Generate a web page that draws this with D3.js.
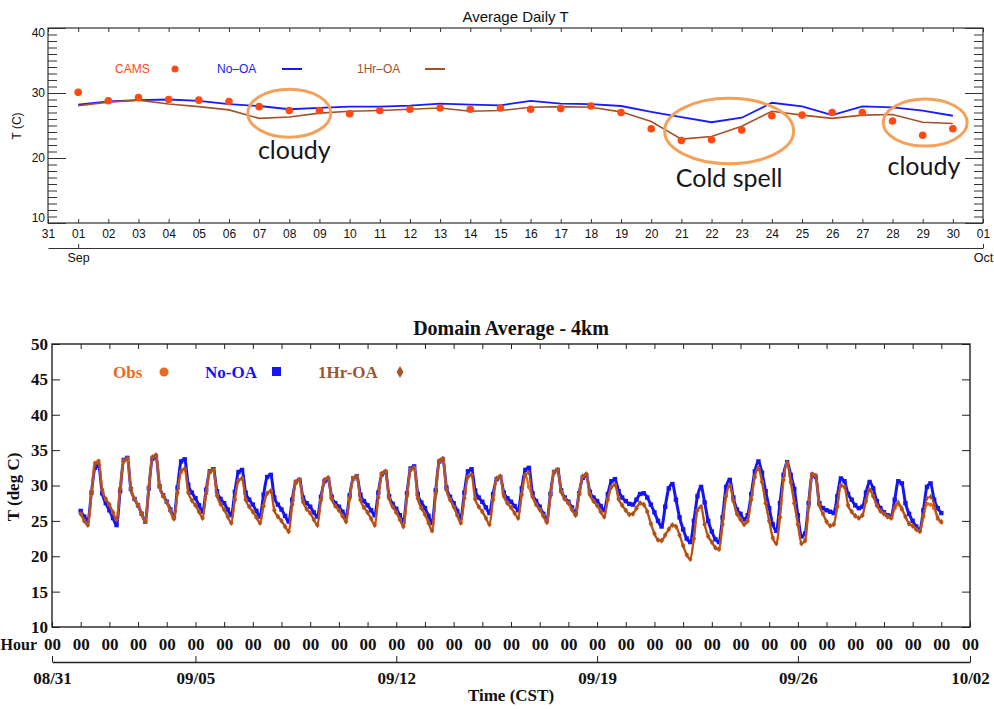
<!DOCTYPE html>
<html><head><meta charset="utf-8">
<script src="https://cdn.jsdelivr.net/npm/d3@7"></script>
<style>body{margin:0;background:#fff}svg{display:block}</style>
</head><body>
<svg id="c" width="994" height="709"></svg>
<script>
// ---------- TOP CHART DATA (daily, Sep 1..30) ----------
const topDays = d3.range(1, 31);
const camsDaily = [30.1,28.8,29.3,29.0,28.9,28.7,27.9,27.3,27.3,26.8,27.3,27.5,27.7,27.5,27.7,27.5,27.6,28.0,27.0,24.5,22.7,22.8,24.3,26.5,26.6,27.0,27.0,25.7,23.5,24.5];
const noOADaily = [28.2,28.7,28.9,29.0,28.8,28.3,28.0,27.5,27.7,27.9,27.9,28.05,28.35,28.2,28.1,28.8,28.35,28.3,28.0,27.1,26.3,25.5,26.2,28.5,27.95,26.6,27.95,27.8,27.3,26.5];
const hrOADaily = [28.05,28.6,28.9,28.3,27.9,27.4,26.1,26.3,26.9,27.2,27.3,27.5,27.7,27.2,27.3,27.8,27.9,27.8,27.1,25.6,22.9,23.3,24.9,27.2,26.6,26.1,26.6,26.7,25.5,25.3];
const topDayLabels = ["31","01","02","03","04","05","06","07","08","09","10","11","12","13","14","15","16","17","18","19","20","21","22","23","24","25","26","27","28","29","30","01"];
const topYTicks = [10,20,30,40];
const topMonthLabels = ["Sep","Oct"];

// ---------- BOTTOM CHART DATA (3-hourly, Sep 1 00h .. Oct 1 00h) ----------
const stepHours = 3;
const noOAHourly = [
26.4,25.6,25.0,29.0,32.5,32.8,28.9,27.5,
26.5,25.4,24.4,29.2,33.6,33.9,29.5,28.1,
27.2,26.0,24.9,29.6,33.8,34.1,29.9,28.6,
27.7,26.6,25.5,29.7,33.4,33.7,30.1,29.0,
28.2,27.2,26.3,29.4,32.0,32.3,29.2,28.1,
27.5,26.6,25.8,29.1,31.9,32.2,29.0,28.0,
27.3,26.4,25.6,28.7,31.2,31.5,28.3,27.3,
26.6,25.7,24.9,28.0,30.5,30.8,28.3,27.5,
27.0,26.2,25.6,28.4,30.6,30.9,28.4,27.5,
27.0,26.3,25.6,28.6,31.0,31.3,28.7,27.8,
27.2,26.5,25.8,29.0,31.6,31.9,28.5,27.4,
26.7,25.8,24.9,28.9,32.4,32.7,28.8,27.6,
26.8,25.7,24.7,29.3,33.4,33.7,29.7,28.4,
27.5,26.4,25.4,29.0,32.0,32.3,29.3,28.3,
27.7,26.9,26.1,28.8,30.9,31.2,29.0,28.2,
27.7,27.1,26.5,29.6,32.2,32.5,28.9,27.8,
27.0,26.0,25.1,28.8,31.9,32.2,29.3,28.3,
27.7,26.9,26.1,28.9,31.1,31.4,29.1,28.3,
27.8,27.1,26.5,28.8,30.6,30.9,29.2,28.3,
27.8,27.4,27.3,28.0,28.8,28.9,28.3,27.3,
26.2,25.0,24.2,27.0,29.6,30.2,28.0,25.5,
23.8,22.5,22.0,25.0,28.5,29.8,27.6,25.0,
23.5,22.4,22.0,25.5,29.8,30.8,28.3,26.6,
26.0,25.2,25.8,28.8,32.0,33.4,31.8,29.2,
26.8,24.5,23.6,27.5,31.5,33.3,31.5,29.5,
25.8,22.8,23.2,27.5,31.5,31.2,27.5,26.8,
26.5,26.3,26.1,28.5,31.0,30.6,28.8,28.0,
27.2,26.8,27.0,29.0,30.5,29.6,27.8,26.8,
26.2,25.8,25.6,28.0,30.6,30.3,27.5,26.0,
25.0,24.2,23.7,26.5,29.8,30.3,28.0,26.8,
26.1];
const hrOAHourly = [
26.0,25.0,24.4,29.0,33.0,33.3,29.4,28.1,
27.3,26.2,25.2,29.6,33.5,33.8,29.5,28.1,
27.2,26.0,24.9,29.7,34.0,34.3,29.9,28.5,
27.6,26.4,25.3,29.0,32.1,32.4,29.0,27.9,
27.2,26.3,25.4,28.9,31.9,32.2,28.6,27.4,
26.6,25.6,24.7,28.0,30.7,31.0,28.0,27.0,
26.3,25.5,24.7,27.1,28.9,29.2,26.5,25.6,
25.0,24.2,23.5,27.3,30.5,30.8,27.7,26.7,
26.1,25.2,24.4,27.9,30.8,31.1,28.1,27.1,
26.5,25.7,24.9,28.2,31.0,31.3,28.0,26.9,
26.2,25.3,24.4,28.3,31.7,32.0,28.2,27.0,
26.2,25.2,24.2,28.5,32.2,32.5,28.2,26.8,
25.9,24.7,23.6,28.8,33.5,33.8,29.4,28.0,
27.0,25.8,24.7,28.2,31.2,31.5,28.1,27.0,
26.3,25.4,24.5,28.0,31.0,31.3,28.5,27.5,
26.9,26.1,25.4,28.7,31.5,31.8,28.4,27.3,
26.6,25.7,24.8,28.6,31.9,32.2,29.1,28.1,
27.5,26.6,25.8,28.8,31.3,31.6,28.7,27.8,
27.2,26.3,25.6,28.0,29.8,30.1,28.1,27.2,
26.5,25.9,26.0,26.8,27.5,27.3,26.3,24.6,
23.2,22.3,22.2,23.0,23.8,24.4,24.2,23.0,
21.5,20.2,19.6,22.5,26.5,27.0,24.5,22.8,
22.0,21.2,21.0,24.5,28.5,30.0,27.8,26.0,
25.2,24.5,25.0,28.0,31.2,32.4,30.5,27.5,
25.0,22.6,21.8,25.5,30.8,33.2,30.5,27.5,
24.5,21.8,22.2,27.0,31.6,31.4,27.2,26.0,
24.9,24.3,24.5,27.0,30.0,29.8,27.2,26.3,
25.7,25.4,25.8,27.8,29.4,28.5,27.2,26.4,
26.0,25.6,25.4,27.0,27.6,26.8,25.6,24.6,
24.3,23.8,23.5,25.8,28.2,28.4,27.3,25.5,
24.9];
const obsHourly = [
26.0,25.0,24.4,29.0,33.2,33.5,29.4,28.1,
27.3,26.2,25.2,29.6,33.5,33.8,29.5,28.1,
27.2,26.0,24.9,29.7,34.0,34.3,29.9,28.5,
27.6,26.4,25.3,29.0,31.9,32.3,29.0,27.9,
27.2,26.3,25.4,28.9,31.9,32.2,28.6,27.4,
26.6,25.6,24.7,28.0,30.7,31.0,28.0,27.0,
26.3,25.5,24.7,27.1,28.9,29.2,26.5,25.6,
25.0,24.2,23.5,27.3,30.5,30.8,27.7,26.7,
26.1,25.2,24.4,27.9,30.8,31.1,28.1,27.1,
26.5,25.7,24.9,28.2,31.0,31.3,28.0,26.9,
26.2,25.3,24.4,28.3,31.7,32.0,28.2,27.0,
26.2,25.2,24.2,28.5,32.2,32.5,28.2,26.8,
25.9,24.7,23.6,28.8,33.5,33.8,29.4,28.0,
27.0,25.8,24.7,28.2,31.2,31.5,28.1,27.0,
26.3,25.4,24.5,28.0,31.0,31.3,28.5,27.5,
26.9,26.1,25.4,28.7,31.5,29.8,28.4,27.3,
26.6,25.7,24.8,28.6,31.9,32.2,29.1,28.1,
27.5,26.6,25.8,28.8,31.3,31.6,28.7,27.8,
27.2,26.3,25.6,28.0,29.8,30.1,28.1,27.2,
26.5,25.9,26.0,26.8,27.5,27.3,26.3,24.6,
23.2,22.3,22.2,23.0,23.8,24.4,24.2,23.0,
21.5,20.2,19.6,22.5,26.5,27.0,24.5,22.8,
22.0,21.2,21.0,24.5,28.5,30.0,27.8,26.0,
25.2,24.5,25.0,28.0,31.2,32.4,30.5,27.5,
25.0,22.6,21.8,25.5,30.8,33.2,30.5,27.5,
24.5,21.8,22.2,27.0,31.6,31.4,27.2,26.0,
24.9,24.3,24.5,27.0,30.0,29.8,27.2,26.3,
25.7,25.4,25.8,27.8,29.4,28.5,27.2,26.4,
26.0,25.6,25.4,26.8,27.3,26.6,25.6,24.6,
24.3,23.8,23.5,25.6,27.4,27.3,26.8,25.3,
24.8];
const bottomYTicks = [10,15,20,25,30,35,40,45,50];
const bottomDateLabels = ["08/31","09/05","09/12","09/19","09/26","10/02"];
const hourLabel = "00";

// ---------- RENDER ----------
const svg = d3.select("#c");
const sans = "'Liberation Sans', Arial, Helvetica, sans-serif";
const serif = "'Liberation Serif', 'Times New Roman', serif";
const U = (y,m,d,h=0) => new Date(Date.UTC(y,m,d,h));

function styleAxis(g, font, color, fill) {
  g.selectAll(".tick line").attr("stroke", color);
  g.selectAll(".domain").attr("stroke", color);
  g.selectAll("text").style("font", font).attr("fill", fill || color);
}

// ===== TOP =====
const xT = d3.scaleUtc().domain([U(2011,7,31), U(2011,9,1)]).range([48, 983]);
const yT = d3.scaleLinear().domain([10, 40]).range([223, 28]);
const gT = svg.append("g");
const dayTicksT = d3.utcDay.range(U(2011,7,31), U(2011,9,2));
const topDates = topDays.map(d => U(2011,8,d));
const topCol = "#333";

gT.append("text").attr("x", 515.5).attr("y", 22).attr("text-anchor","middle")
  .style("font", `15px ${sans}`).attr("fill","#111").text("Average Daily T");

["L","R"].forEach(side => {
  const ax = (side==="L" ? d3.axisLeft(yT) : d3.axisRight(yT))
    .tickValues(d3.range(10, 41).filter(v => v % 10 !== 0)).tickSize(-9).tickFormat("");
  const g = gT.append("g").attr("transform", `translate(${side==="L"?48:983},0)`).call(ax);
  g.select(".domain").remove(); styleAxis(g, `12px ${sans}`, topCol);
});
const gTL = gT.append("g").attr("transform","translate(48,0)")
  .call(d3.axisLeft(yT).tickValues(topYTicks).tickSize(-18).tickPadding(3));
gTL.select(".domain").remove(); styleAxis(gTL, `12px ${sans}`, topCol, "#111");
// end labels nudged inside the frame, as in the original
gTL.selectAll("text").attr("transform", d => d === 40 ? "translate(0,5)" : d === 10 ? "translate(0,-5)" : null);
const gTR = gT.append("g").attr("transform","translate(983,0)")
  .call(d3.axisRight(yT).tickValues(topYTicks).tickSize(-18).tickFormat(""));
gTR.select(".domain").remove(); styleAxis(gTR, `12px ${sans}`, topCol);

const gTB = gT.append("g").attr("transform","translate(0,223)")
  .call(d3.axisBottom(xT).tickValues(dayTicksT).tickFormat((d,i)=>topDayLabels[i]).tickSize(-4).tickSizeOuter(0).tickPadding(6));
gTB.select(".domain").remove(); styleAxis(gTB, `12px ${sans}`, topCol, "#111");
const gTT = gT.append("g").attr("transform","translate(0,28)")
  .call(d3.axisTop(xT).tickValues(dayTicksT).tickFormat("").tickSize(-4).tickSizeOuter(0));
gTT.select(".domain").remove(); styleAxis(gTT, `12px ${sans}`, topCol);

gT.append("rect").attr("x",48).attr("y",28).attr("width",935).attr("height",195)
  .attr("fill","none").attr("stroke",topCol).attr("stroke-width",1.2);

const gTM = gT.append("g").attr("transform","translate(0,248)")
  .call(d3.axisBottom(xT).tickValues([U(2011,8,1), U(2011,9,1)]).tickFormat((d,i)=>topMonthLabels[i]).tickSize(-4).tickSizeOuter(0).tickPadding(5));
styleAxis(gTM, `12.5px ${sans}`, topCol, "#111");

gT.append("text").attr("transform","translate(21,126) rotate(-90)").attr("text-anchor","middle")
  .style("font", `12px ${sans}`).attr("fill","#111").text("T (C)");

const lineT = d3.line().x((d,i)=>xT(topDates[i])).y(d=>yT(d));
gT.append("path").datum(noOADaily).attr("d", lineT).attr("fill","none").attr("stroke","#1a1aff").attr("stroke-width",1.8);
gT.append("path").datum(hrOADaily).attr("d", lineT).attr("fill","none").attr("stroke","#a0522d").attr("stroke-width",1.6);
gT.selectAll("circle.cams").data(camsDaily).join("circle").attr("class","cams")
  .attr("cx",(d,i)=>xT(topDates[i])).attr("cy",d=>yT(d)).attr("r",3.8).attr("fill","#ff4a12");

const legT = gT.append("g").style("font", `12px ${sans}`);
legT.append("text").attr("x",115).attr("y",73).attr("fill","#ff4a12").text("CAMS");
legT.append("circle").attr("cx",175).attr("cy",69).attr("r",3.5).attr("fill","#ff4a12");
legT.append("text").attr("x",217).attr("y",73).attr("fill","#1a1aff").text("No\u2013OA");
legT.append("line").attr("x1",282).attr("x2",302).attr("y1",69).attr("y2",69).attr("stroke","#1a1aff").attr("stroke-width",2);
legT.append("text").attr("x",357).attr("y",73).attr("fill","#a0522d").text("1Hr\u2013OA");
legT.append("line").attr("x1",425).attr("x2",445).attr("y1",69).attr("y2",69).attr("stroke","#a0522d").attr("stroke-width",2);

const annFont = `25px Lato, 'Open Sans', sans-serif`;
const ann = [
  {d: U(2011,8,8), t: 26.9, rx: 41.5, ry: 24, label: "cloudy", ld: U(2011,8,8,4), lt: 19.8},
  {d: U(2011,8,22,14), t: 24.15, rx: 64.5, ry: 32.7, label: "Cold spell", ld: U(2011,8,22,14), lt: 15.6},
  {d: U(2011,8,29,2), t: 25.45, rx: 42, ry: 23.5, label: "cloudy", ld: U(2011,8,29,1), lt: 17.4}
];
ann.forEach(a => {
  gT.append("ellipse").attr("cx", xT(a.d)).attr("cy", yT(a.t)).attr("rx", a.rx).attr("ry", a.ry)
    .attr("fill","none").attr("stroke","#f3a25c").attr("stroke-width",3);
  gT.append("text").attr("x", xT(a.ld)).attr("y", yT(a.lt)).attr("text-anchor","middle")
    .style("font", annFont).attr("fill","#151520").text(a.label);
});

// ===== BOTTOM =====
const xB = d3.scaleUtc().domain([U(2011,7,31), U(2011,9,2)]).range([52, 970]);
const yB = d3.scaleLinear().domain([10, 50]).range([627, 344]);
const gB = svg.append("g");
const bFont = `bold 17px ${serif}`;
const allDaysB = d3.utcDay.range(U(2011,7,31), U(2011,9,3));
const innerDaysB = allDaysB.slice(1, -1);
const tB = i => new Date(Date.UTC(2011,8,1) + i * stepHours * 3600e3);

gB.append("text").attr("x",511).attr("y",335).attr("text-anchor","middle")
  .style("font", `bold 20px ${serif}`).attr("fill","#111").text("Domain Average - 4km");

const gBL = gB.append("g").attr("transform","translate(52,0)")
  .call(d3.axisLeft(yB).tickValues(bottomYTicks).tickSize(-8).tickPadding(4));
gBL.select(".domain").remove(); styleAxis(gBL, bFont, "#222", "#111");
const gBR = gB.append("g").attr("transform","translate(970,0)")
  .call(d3.axisRight(yB).tickValues(bottomYTicks).tickSize(-8).tickFormat(""));
gBR.select(".domain").remove(); styleAxis(gBR, bFont, "#222");
const gBB = gB.append("g").attr("transform","translate(0,627)")
  .call(d3.axisBottom(xB).tickValues(allDaysB).tickFormat(()=>hourLabel).tickSize(-5).tickSizeOuter(0).tickPadding(11));
gBB.select(".domain").remove(); styleAxis(gBB, bFont, "#222", "#111");
const gBT = gB.append("g").attr("transform","translate(0,344)")
  .call(d3.axisTop(xB).tickValues(innerDaysB).tickFormat("").tickSize(-5).tickSizeOuter(0));
gBT.select(".domain").remove(); styleAxis(gBT, bFont, "#222");

gB.append("rect").attr("x",52).attr("y",344).attr("width",918).attr("height",283)
  .attr("fill","none").attr("stroke","#222").attr("stroke-width",1.4);

gB.append("text").attr("x",37).attr("y",650).attr("text-anchor","end")
  .style("font", `bold 16px ${serif}`).attr("fill","#111").text("Hour");

const dateTicks = [U(2011,7,31),U(2011,8,5),U(2011,8,12),U(2011,8,19),U(2011,8,26),U(2011,9,2)];
const gBD = gB.append("g").attr("transform","translate(0,662)")
  .call(d3.axisBottom(xB).tickValues(dateTicks).tickFormat((d,i)=>bottomDateLabels[i]).tickSize(-6).tickSizeOuter(0).tickPadding(10));
styleAxis(gBD, bFont, "#222", "#111");
gBD.select(".domain").attr("stroke-width",1.3);

gB.append("text").attr("x",511).attr("y",701).attr("text-anchor","middle")
  .style("font", bFont).attr("fill","#111").text("Time (CST)");
gB.append("text").attr("transform","translate(19,487) rotate(-90)").attr("text-anchor","middle")
  .style("font", bFont).attr("fill","#111").text("T (deg C)");

const blue = "#1414f5", orange = "#ec6a1e", brown = "#a8531f";
const lineB = d3.line().x((d,i)=>xB(tB(i))).y(d=>yB(d)).curve(d3.curveMonotoneX);

gB.append("path").datum(noOAHourly).attr("d", lineB).attr("fill","none").attr("stroke",blue).attr("stroke-width",3);
gB.append("g").selectAll("rect").data(noOAHourly).join("rect")
  .attr("x",(d,i)=>xB(tB(i))-2.2).attr("y",d=>yB(d)-2.2).attr("width",4.4).attr("height",4.4).attr("fill",blue);
gB.append("path").datum(obsHourly).attr("d", lineB).attr("fill","none").attr("stroke",orange).attr("stroke-width",2.4);
gB.append("g").selectAll("circle").data(obsHourly).join("circle")
  .attr("cx",(d,i)=>xB(tB(i))).attr("cy",d=>yB(d)).attr("r",2.1).attr("fill",orange);
gB.append("path").datum(hrOAHourly).attr("d", lineB).attr("fill","none").attr("stroke",brown).attr("stroke-width",1.6);
const dia = d3.symbol(d3.symbolDiamond, 11);
gB.append("g").selectAll("path").data(hrOAHourly).join("path")
  .attr("transform",(d,i)=>`translate(${xB(tB(i))},${yB(d)})`).attr("d", dia).attr("fill",brown);

const legB = gB.append("g").style("font", bFont);
legB.append("text").attr("x",113).attr("y",378).attr("fill",orange).text("Obs");
legB.append("circle").attr("cx",164).attr("cy",372).attr("r",4.5).attr("fill",orange);
legB.append("text").attr("x",205).attr("y",378).attr("fill",blue).text("No-OA");
legB.append("rect").attr("x",272).attr("y",367).attr("width",9).attr("height",9).attr("fill",blue);
legB.append("text").attr("x",318).attr("y",378).attr("fill","#a0552f").text("1Hr-OA");
legB.append("path").attr("transform","translate(400,372)").attr("d", d3.symbol(d3.symbolDiamond, 40)()).attr("fill",brown);
</script>
</body></html>
